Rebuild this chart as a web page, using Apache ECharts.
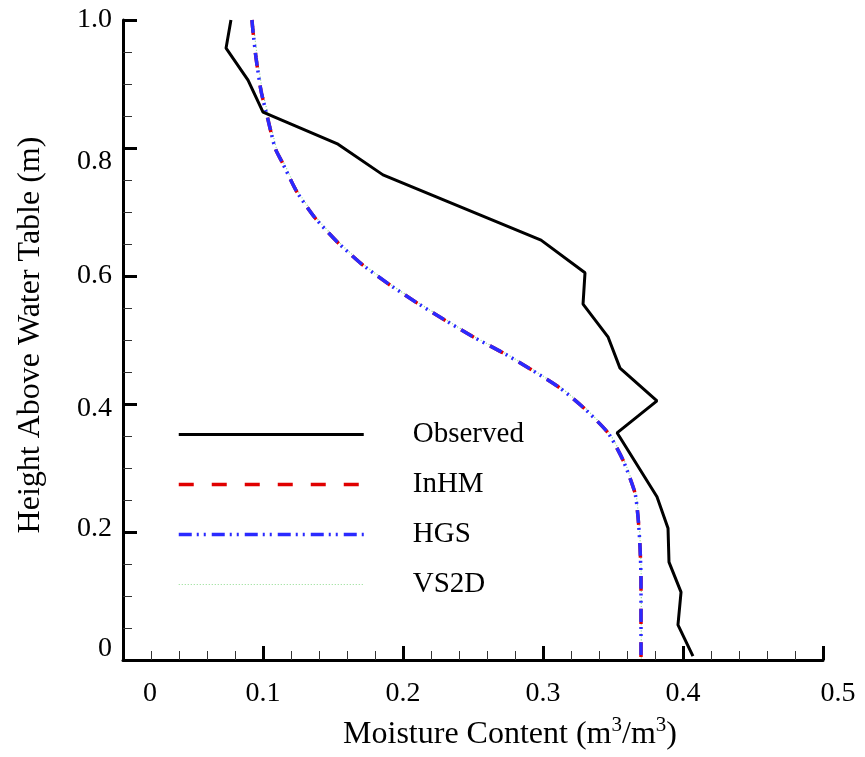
<!DOCTYPE html>
<html>
<head>
<meta charset="utf-8">
<script src="https://cdn.jsdelivr.net/npm/echarts@6/dist/echarts.min.js"></script>
<style>html,body{margin:0;padding:0;background:#fff;}#chart{width:865px;height:757px;}</style>
</head>
<body>
<div id="chart"></div>
<script>
// ---- data ----
var seriesNames = ['Observed', 'InHM', 'HGS', 'VS2D'];
var xTickLabels = ['0', '0.1', '0.2', '0.3', '0.4', '0.5'];
var yTickLabels = ['0', '0.2', '0.4', '0.6', '0.8', '1.0'];

var observedMoisture = [0.0771, 0.0736, 0.0893, 0.1000, 0.1536, 0.1857, 0.2986, 0.3300, 0.3286, 0.3464, 0.3550, 0.3814, 0.3529, 0.3814, 0.3893, 0.3900, 0.3986, 0.3964, 0.4071];
var observedHeight   = [1.000, 0.956, 0.906, 0.856, 0.806, 0.758, 0.656, 0.605, 0.556, 0.505, 0.456, 0.405, 0.355, 0.255, 0.206, 0.153, 0.106, 0.055, 0.006];

var modelHeight   = [1.000, 0.981, 0.941, 0.889, 0.844, 0.800, 0.778, 0.731, 0.691, 0.652, 0.617, 0.586, 0.558, 0.531, 0.505, 0.480, 0.453, 0.425, 0.395, 0.355, 0.3125, 0.261, 0.223, 0.177, 0.125, 0.000];
var inhmMoisture  = [0.0921, 0.0929, 0.0950, 0.0986, 0.1036, 0.1086, 0.1136, 0.1243, 0.1371, 0.1536, 0.1714, 0.1907, 0.2100, 0.2300, 0.2500, 0.2714, 0.2921, 0.3121, 0.3286, 0.3464, 0.3571, 0.3657, 0.3679, 0.3693, 0.3700, 0.3700];
var hgsMoisture   = [0.0921, 0.0929, 0.0950, 0.0986, 0.1036, 0.1086, 0.1136, 0.1243, 0.1371, 0.1536, 0.1714, 0.1907, 0.2100, 0.2300, 0.2500, 0.2714, 0.2921, 0.3121, 0.3286, 0.3464, 0.3571, 0.3657, 0.3679, 0.3693, 0.3700, 0.3700];
var vs2dMoisture  = [0.0930, 0.0938, 0.0960, 0.0996, 0.1046, 0.1096, 0.1146, 0.1253, 0.1381, 0.1546, 0.1724, 0.1917, 0.2110, 0.2310, 0.2510, 0.2724, 0.2931, 0.3131, 0.3296, 0.3472, 0.3578, 0.3662, 0.3683, 0.3696, 0.3702, 0.3702];

function pairs(xs, ys) {
  var out = [];
  for (var i = 0; i < xs.length; i++) out.push([xs[i], ys[i]]);
  return out;
}

var FONT = '"Liberation Serif", "Times New Roman", serif';
var chart = echarts.init(document.getElementById('chart'), null, {renderer: 'canvas'});

var lineColors = ['#000000', '#e00000', '#2a2aff', '#8fdc8f'];
var lineWidths = [3, 3.5, 3.5, 1.2];
var lineTypes  = ['solid', [15, 18], [13, 5, 2, 5, 2, 6], [1, 2]];

var option = {
  backgroundColor: '#ffffff',
  animation: false,
  textStyle: {fontFamily: FONT, color: '#000'},
  grid: {left: 123, top: 20, right: 42, bottom: 97, containLabel: false},
  legend: {
    data: seriesNames.map(function (n, i) {
      return {name: n, lineStyle: {color: lineColors[i], width: lineWidths[i], type: lineTypes[i]}};
    }),
    orient: 'vertical',
    left: 172,
    top: 415,
    itemWidth: 185,
    itemHeight: 24,
    itemGap: 21,
    itemStyle: {opacity: 0},
    formatter: function (name) { return '{t|' + name + '}'; },
    textStyle: {
      fontFamily: FONT, fontSize: 28, color: '#000',
      rich: {t: {fontFamily: FONT, fontSize: 29, color: '#000', padding: [0, 0, 0, 44]}}
    }
  },
  xAxis: {
    type: 'value',
    min: 0, max: 0.5, interval: 0.1,
    name: '{n|Moisture Content (m}{s|3}{n|/m}{s|3}{n|)}',
    nameLocation: 'middle',
    nameGap: 55,
    nameTextStyle: {
      fontFamily: FONT, color: '#000',
      padding: [0, 0, 0, 74],
      rich: {
        n: {fontFamily: FONT, fontSize: 32, color: '#000', lineHeight: 36, verticalAlign: 'bottom'},
        s: {fontFamily: FONT, fontSize: 21, color: '#000', lineHeight: 36, verticalAlign: 'top'}
      }
    },
    axisLine: {show: true, onZero: false, lineStyle: {color: '#000', width: 3}},
    axisTick: {show: true, inside: true, length: 14, lineStyle: {color: '#000', width: 3}},
    minorTick: {show: true, splitNumber: 5, length: 9, lineStyle: {color: '#333', width: 1}},
    splitLine: {show: false},
    axisLabel: {
      margin: 20,
      fontFamily: FONT, fontSize: 28, color: '#000',
      formatter: function (v) {
        var i = Math.round(v * 10);
        var lab = xTickLabels[i];
        if (i === 0) return '{a|' + lab + '}';
        if (i === 5) return '{b|' + lab + '}';
        return '{c|' + lab + '}';
      },
      rich: {
        a: {fontFamily: FONT, fontSize: 28, color: '#000', padding: [0, 0, 0, 54]},
        b: {fontFamily: FONT, fontSize: 28, color: '#000', padding: [0, 0, 0, 30]},
        c: {fontFamily: FONT, fontSize: 28, color: '#000'}
      }
    }
  },
  yAxis: {
    type: 'value',
    min: 0, max: 1, interval: 0.2,
    name: 'Height Above Water Table (m)',
    nameLocation: 'middle',
    nameGap: 76,
    nameTextStyle: {fontFamily: FONT, fontSize: 32, color: '#000', padding: [0, 0, 0, 10]},
    axisLine: {show: true, onZero: false, lineStyle: {color: '#000', width: 3}},
    axisTick: {show: true, inside: true, length: 14, lineStyle: {color: '#000', width: 3}},
    minorTick: {show: true, splitNumber: 4, length: 9, lineStyle: {color: '#333', width: 1}},
    splitLine: {show: false},
    axisLabel: {
      margin: 11,
      fontFamily: FONT, fontSize: 28, color: '#000',
      formatter: function (v) {
        var i = Math.round(v * 5);
        var keys = ['z', 'p2', 'p4', 'p6', 'p8', 'p10'];
        return '{' + keys[i] + '|' + yTickLabels[i] + '}';
      },
      rich: {
        z:   {fontFamily: FONT, fontSize: 28, color: '#000', padding: [0, 0, 22, 0]},
        p2:  {fontFamily: FONT, fontSize: 28, color: '#000', padding: [0, 0, 6, 0]},
        p4:  {fontFamily: FONT, fontSize: 28, color: '#000', padding: [10, 0, 0, 0]},
        p6:  {fontFamily: FONT, fontSize: 28, color: '#000'},
        p8:  {fontFamily: FONT, fontSize: 28, color: '#000', padding: [28, 0, 0, 0]},
        p10: {fontFamily: FONT, fontSize: 28, color: '#000'}
      }
    }
  },
  series: [
    {
      name: 'VS2D', type: 'line', symbol: 'none', smooth: 0.2, z: 2,
      data: pairs(vs2dMoisture, modelHeight),
      itemStyle: {color: lineColors[3]},
      lineStyle: {color: lineColors[3], width: lineWidths[3], type: lineTypes[3]}
    },
    {
      name: 'InHM', type: 'line', symbol: 'none', smooth: 0.2, z: 3,
      data: pairs(inhmMoisture, modelHeight),
      itemStyle: {color: lineColors[1]},
      lineStyle: {color: lineColors[1], width: lineWidths[1], type: lineTypes[1]}
    },
    {
      name: 'HGS', type: 'line', symbol: 'none', smooth: 0.2, z: 4,
      data: pairs(hgsMoisture, modelHeight),
      itemStyle: {color: lineColors[2]},
      lineStyle: {color: lineColors[2], width: lineWidths[2], type: lineTypes[2]}
    },
    {
      name: 'Observed', type: 'line', symbol: 'none', z: 5,
      data: pairs(observedMoisture, observedHeight),
      itemStyle: {color: lineColors[0]},
      lineStyle: {color: lineColors[0], width: lineWidths[0], type: lineTypes[0]}
    }
  ]
};
chart.setOption(option);
</script>
</body>
</html>
